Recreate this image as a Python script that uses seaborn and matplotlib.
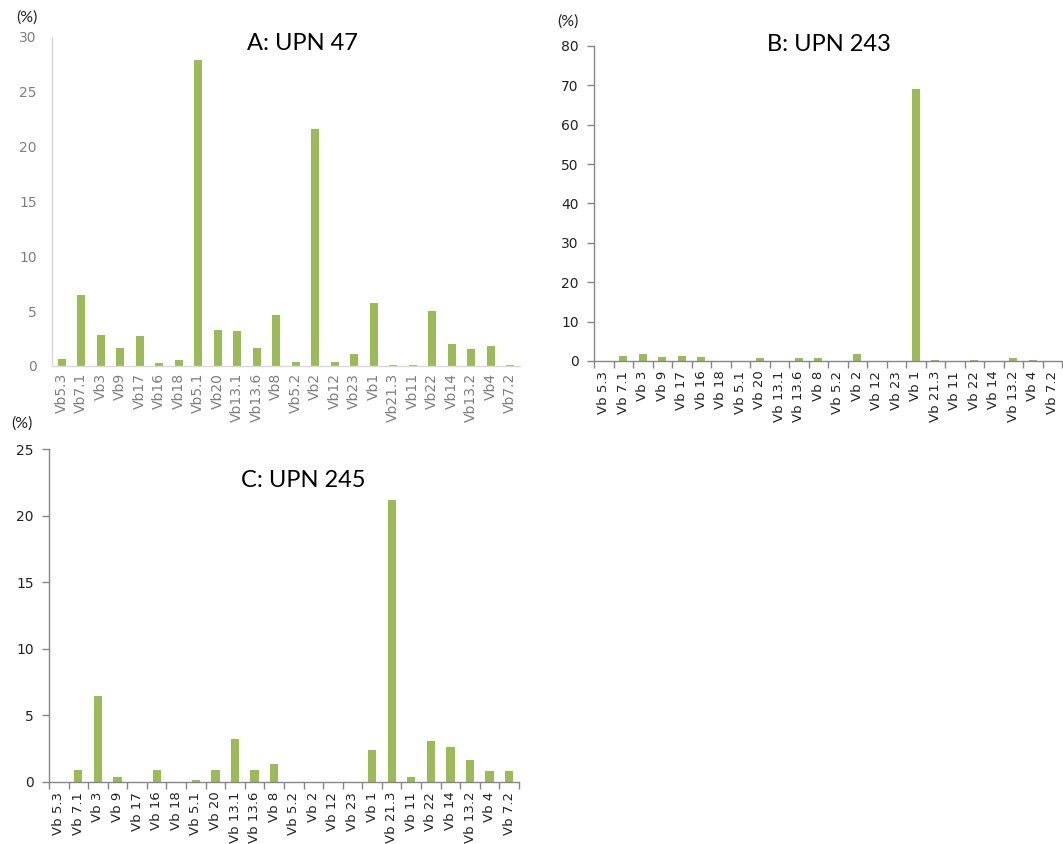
import numpy as np
import seaborn as sns
import matplotlib.pyplot as plt

# V beta families, same order in all three panels
labels_a = ["Vb5.3", "Vb7.1", "Vb3", "Vb9", "Vb17", "Vb16", "Vb18", "Vb5.1", "Vb20", "Vb13.1",
            "Vb13.6", "Vb8", "Vb5.2", "Vb2", "Vb12", "Vb23", "Vb1", "Vb21.3", "Vb11", "Vb22",
            "Vb14", "Vb13.2", "Vb4", "Vb7.2"]
labels_bc = ["Vb 5.3", "Vb 7.1", "Vb 3", "Vb 9", "Vb 17", "Vb 16", "Vb 18", "Vb 5.1", "Vb 20", "Vb 13.1",
             "Vb 13.6", "Vb 8", "Vb 5.2", "Vb 2", "Vb 12", "Vb 23", "Vb 1", "Vb 21.3", "Vb 11", "Vb 22",
             "Vb 14", "Vb 13.2", "Vb 4", "Vb 7.2"]

# (%) per family
upn47 = [0.67, 6.5, 2.84, 1.65, 2.74, 0.24, 0.55, 27.9, 3.3, 3.17,
         1.65, 4.66, 0.34, 21.65, 0.34, 1.1, 5.73, 0.12, 0.12, 5.0,
         1.98, 1.55, 1.86, 0.12]
upn243 = [0, 1.27, 1.86, 1.0, 1.27, 1.0, 0, 0, 0.68, 0,
          0.68, 0.68, 0, 1.86, 0, 0, 69.0, 0.34, 0, 0.34,
          0, 0.68, 0.34, 0]
upn245 = [0, 0.93, 6.43, 0.4, 0, 0.93, 0, 0.15, 0.93, 3.23,
          0.93, 1.38, 0, 0, 0, 0, 2.43, 21.15, 0.4, 3.05,
          2.6, 1.63, 0.83, 0.83]

GREEN = "#9BBB59"

sns.set_style("white")
plt.rcParams["font.family"] = ["DejaVu Sans"]

fig = plt.figure(figsize=(10.63, 8.44), dpi=100)
ax_a = fig.add_axes([0.0489, 0.5664, 0.4403, 0.3898])
ax_b = fig.add_axes([0.5588, 0.5723, 0.4403, 0.3732])
ax_c = fig.add_axes([0.0461, 0.0735, 0.4421, 0.3945])

panels = [
    (ax_a, labels_a, upn47, 30, 5, "A: UPN 47", (0.536, 0.979), "#d9d9d9", "#7f7f7f", False, 10, 5),
    (ax_b, labels_bc, upn243, 80, 10, "B: UPN 243", (0.502, 1.006), "#868686", "#222222", True, 9.5, 7),
    (ax_c, labels_bc, upn245, 25, 5, "C: UPN 245", (0.54, 0.904), "#868686", "#222222", True, 9.5, 7),
]

for ax, labs, vals, ymax, step, title, tpos, spine_col, txt_col, ticks, fs, xpad in panels:
    sns.barplot(x=labs, y=vals, color=GREEN, saturation=1, width=0.42, linewidth=0, ax=ax)
    ax.set_xlim(-0.5, 23.5)
    ax.set_ylim(0, ymax)
    ax.set_yticks(np.arange(0, ymax + 1, step))
    ax.tick_params(axis="x", which="major", bottom=False, length=0, labelrotation=90,
                   labelsize=fs, labelcolor=txt_col, pad=xpad)
    ax.tick_params(axis="y", left=ticks, labelsize=10, labelcolor=txt_col, pad=6,
                   length=5, width=1, color=spine_col, direction="out")
    if ticks:
        ax.set_xticks(np.arange(-0.5, 24, 1), minor=True)
        ax.tick_params(axis="x", which="minor", bottom=True, length=5, width=1,
                       color=spine_col, direction="out")
    sns.despine(ax=ax)
    for s in ["left", "bottom"]:
        ax.spines[s].set_color(spine_col)
        ax.spines[s].set_linewidth(1.0)
    ax.set_xlabel("")
    ax.set_ylabel("")
    ax.text(tpos[0], tpos[1], title, transform=ax.transAxes, ha="center", va="center",
            fontsize=17, family="Lato", color="black")

fig.text(27 / 1063, 1 - 18 / 844, "(%)", ha="center", va="center", fontsize=11.5, family="Lato")
fig.text(568 / 1063, 1 - 22 / 844, "(%)", ha="center", va="center", fontsize=11.5, family="Lato")
fig.text(22 / 1063, 1 - 424 / 844, "(%)", ha="center", va="center", fontsize=11.5, family="Lato")

fig.savefig("out.png", dpi=100)
